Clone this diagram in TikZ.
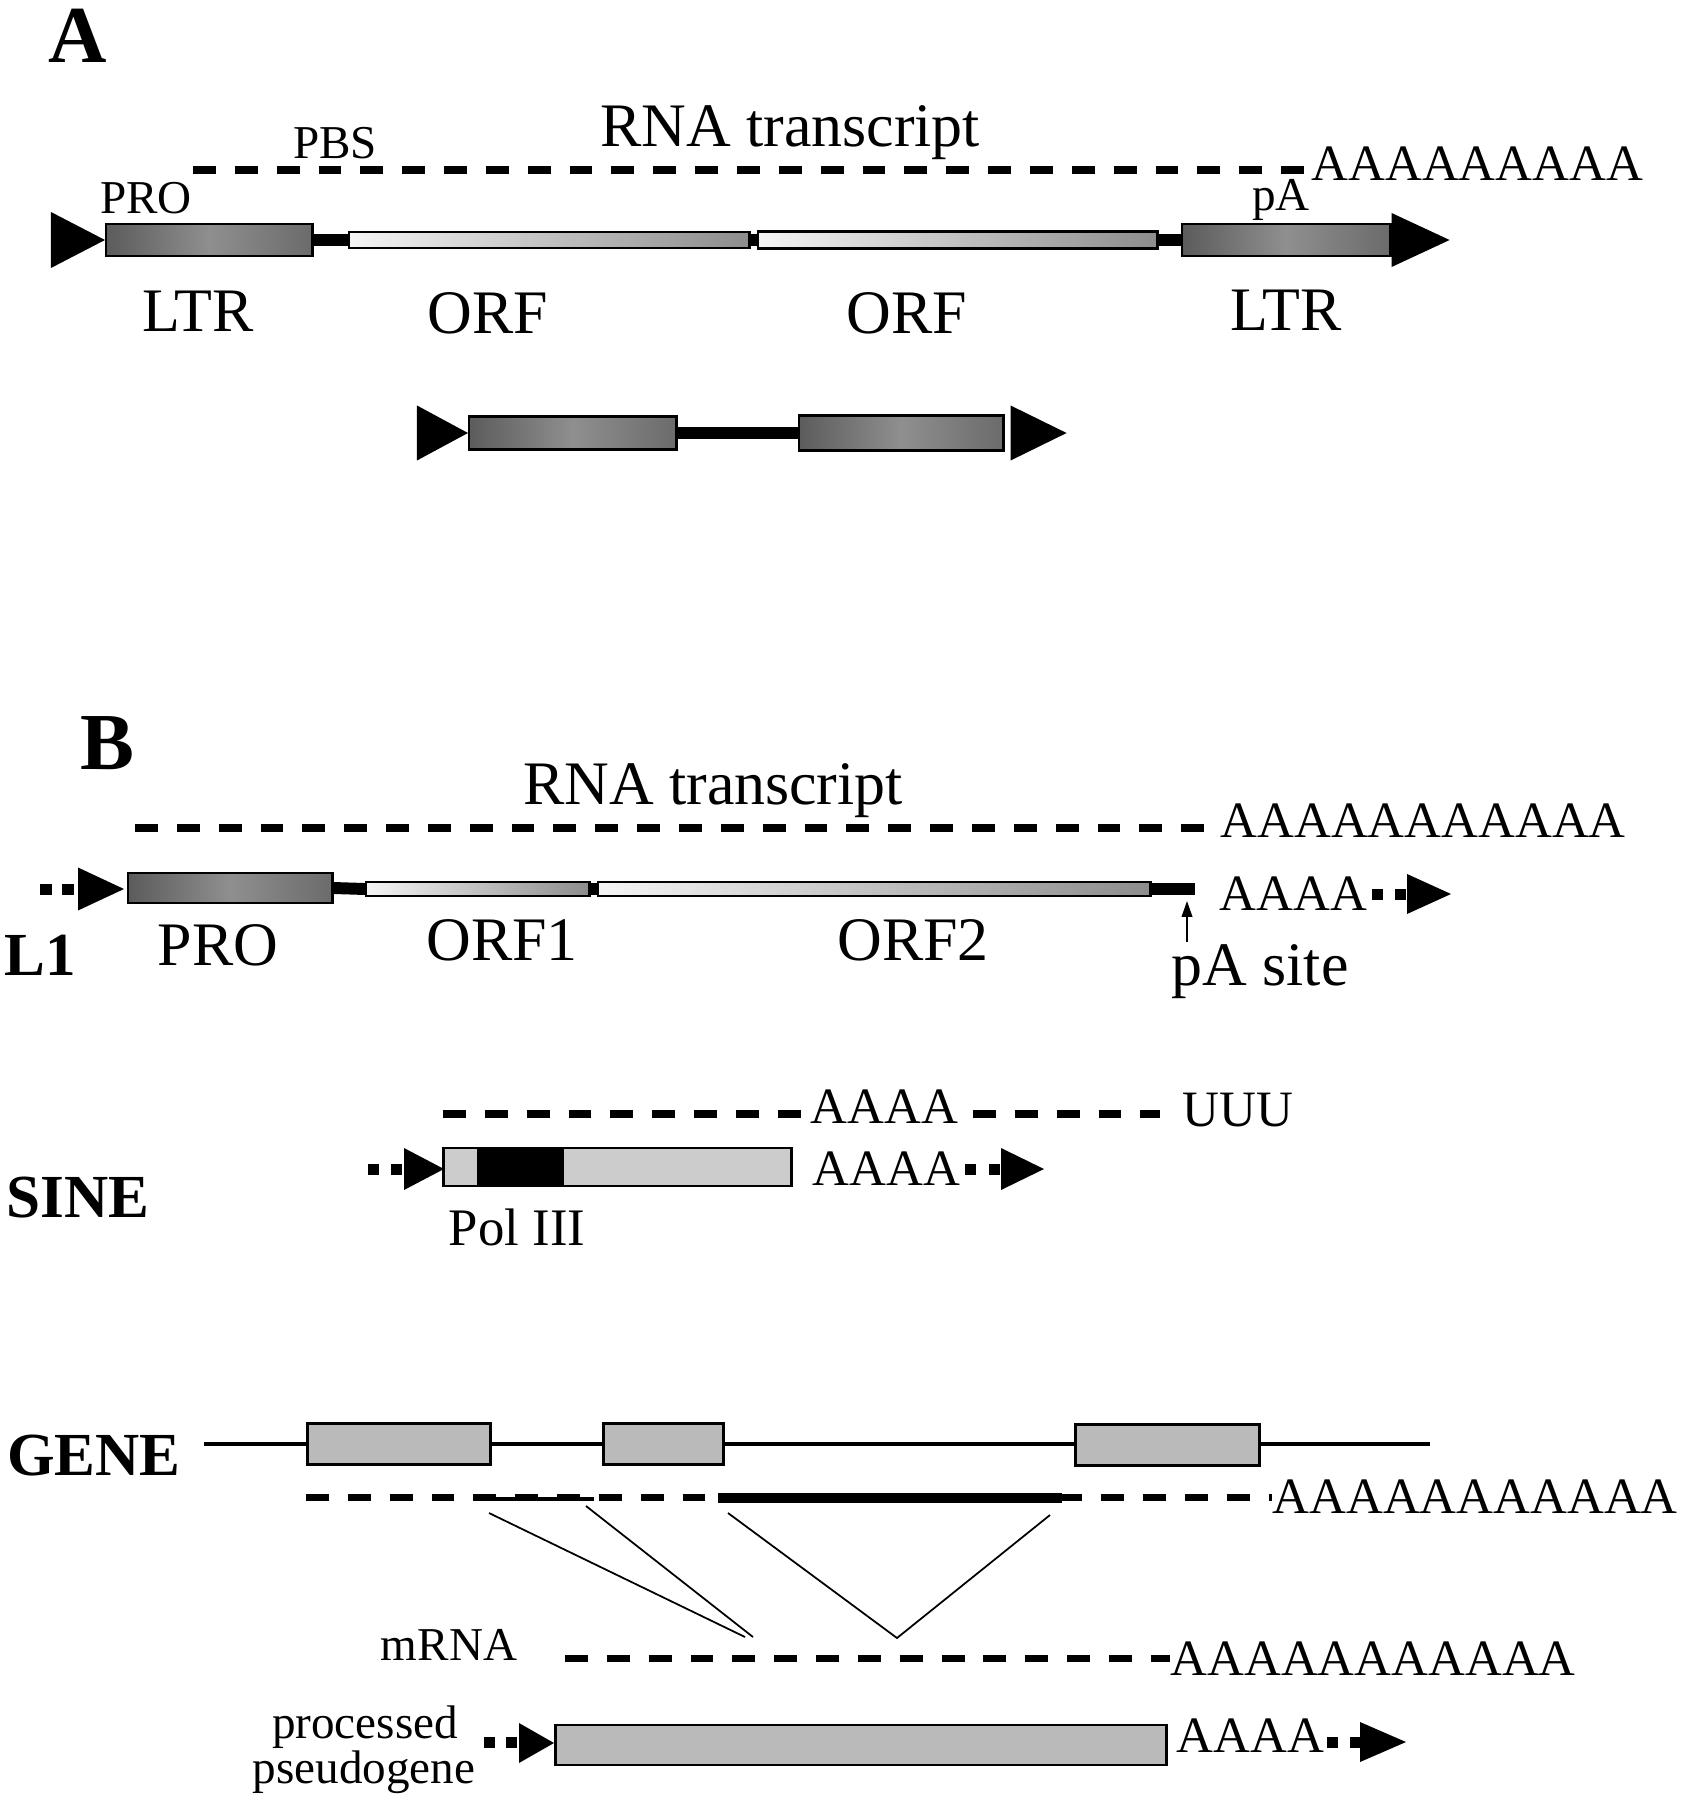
\documentclass[tikz,border=0pt]{standalone}
\usepackage{fontspec}
\setmainfont{Liberation Serif}
\usetikzlibrary{arrows.meta}
% filled target-site arrowhead: base centre, width, height
\newcommand{\rtri}[3]{\fill #1 ++(0,{#3/2}) -- ++(0,{-#3}) -- ++({#2},{#3/2}) -- cycle;}

\begin{document}
\begin{tikzpicture}[x=0.01cm, y=-0.01cm,
    lbl/.style={anchor=base, inner sep=0, font=\fontsize{17.6}{20}\selectfont},
    sml/.style={anchor=base, inner sep=0, font=\fontsize{13.4}{15}\selectfont},
    tag/.style={anchor=base, inner sep=0, font=\fontsize{17.4}{20}\selectfont\bfseries},
    panel/.style={anchor=base, inner sep=0, font=\fontsize{23}{26}\selectfont\bfseries},
    polyA/.style={anchor=base west, inner sep=0, font=\fontsize{14.5}{17}\selectfont},
    ltrbox/.style={draw, line width=0.7pt, inner sep=0, anchor=west, left color=black!64, right color=black!58, middle color=black!44},
    orfbox/.style={draw, line width=0.7pt, inner sep=0, anchor=west, left color=black!4, right color=black!45},
    exon/.style={draw, line width=0.8pt, inner sep=0, anchor=west, fill=black!27},
    tsd/.style={fill, inner sep=0, minimum size=0.11cm},
    link/.style={line width=3.4pt},
    rna/.style={line width=2pt, dash pattern=on 6.5pt off 5.4pt},
    intron/.style={line width=1.2pt},
    splice/.style={line width=0.5pt}
]
    \useasboundingbox (0,0) rectangle (1686,1800);

    % === A: LTR RETROTRANSPOSON ===
    \node[panel] (panA) at (78,63) {A};
    \node[lbl] (rnaA) at (790,147) {RNA transcript};
    \node[sml] (pbs) at (335,159) {PBS};
    \node[sml] (proA) at (146,213) {PRO};
    \node[sml] (pA) at (1281,210) {pA};

    % transcript
    \node[polyA] (polyA1) at (1311,180) {AAAAAAAAA};
    \coordinate (txA) at (193,170);
    \draw[rna] (txA) -- (txA -| polyA1.west);

    % element
    \node[ltrbox, minimum width=2.06cm, minimum height=0.32cm] (ltrL) at (105,240) {};
    \node[orfbox, minimum width=4.00cm, minimum height=0.16cm] (orfA) at (348,240) {};
    \node[orfbox, minimum width=3.99cm, minimum height=0.17cm] (orfB) at (757,240) {};
    \node[ltrbox, minimum width=2.08cm, minimum height=0.32cm] (ltrR) at (1181,240) {};
    \draw[link] (ltrL.east) -- (orfA.west);
    \draw[link] (orfA.east) -- (orfB.west);
    \draw[link] (orfB.east) -- (ltrR.west);
    \rtri{([xshift=-0.54cm]ltrL.west)}{54}{56}
    \rtri{(ltrR.east)}{58}{54}

    \node[lbl] (ltrLlbl) at (198,331) {LTR};
    \node[lbl] (orfAlbl) at (488,333) {ORF};
    \node[lbl] (orfBlbl) at (907,333) {ORF};
    \node[lbl] (ltrRlbl) at (1286,330) {LTR};

    % solo element
    \node[ltrbox, minimum width=2.07cm, minimum height=0.33cm] (soloL) at (468,433) {};
    \node[ltrbox, minimum width=2.04cm, minimum height=0.35cm] (soloR) at (798,433) {};
    \draw[link] (soloL.east) -- (soloR.west);
    \rtri{([xshift=-0.51cm]soloL.west)}{51}{55}
    \rtri{([xshift=0.06cm]soloR.east)}{56}{55}

    % === B: L1 ===
    \node[panel] (panB) at (107,769) {B};
    \node[lbl] (rnaB) at (713,804) {RNA transcript};
    \node[polyA] (polyA2) at (1220,837) {AAAAAAAAAAA};
    \coordinate (txB) at (135,828);
    \draw[rna] (txB) -- (txB -| polyA2.west);

    \node[tsd] (l1d1) at (46,889) {};
    \node[tsd] (l1d2) at (68,889) {};
    \node[ltrbox, minimum width=2.04cm, minimum height=0.30cm] (pro) at (127,888) {};
    \node[orfbox, minimum width=2.23cm, minimum height=0.14cm] (orf1) at (365,889) {};
    \node[orfbox, minimum width=5.52cm, minimum height=0.14cm] (orf2) at (597,889) {};
    \coordinate (l1end) at (1195,889);
    \draw[link] (pro.east) -- (orf1.west);
    \draw[link] (orf1.east) -- (orf2.west);
    \draw[link] (orf2.east) -- (l1end);
    \rtri{(78,889)}{46}{43}

    \node[polyA] (polyA3) at (1219,910) {AAAA};
    \node[tsd] (l1d3) at (1377,894) {};
    \node[tsd] (l1d4) at (1400,894) {};
    \rtri{(1407,894)}{44}{40}

    \coordinate (pAtail) at (1187,942);
    \coordinate (pAtip) at (1187,901);
    \draw[splice, -{Triangle[length=4.5pt, width=3pt]}] (pAtail) -- (pAtip);
    \node[lbl] (pAsite) at (1260,985) {pA site};

    \node[tag] (l1) at (40,975) {L1};
    \node[lbl] (prolbl) at (218,965) {PRO};
    \node[lbl] (orf1lbl) at (502,960) {ORF1};
    \node[lbl] (orf2lbl) at (913,960) {ORF2};

    % === SINE ===
    \node[polyA] (polyA4) at (810,1123) {AAAA};
    \node[polyA] (uuu) at (1182,1126) {UUU};
    \coordinate (txS) at (443,1114);
    \coordinate (txS2) at (973,1114);
    \coordinate (txS3) at (1160,1114);
    \draw[rna] (txS) -- (txS -| polyA4.west);
    \draw[rna] (txS2) -- (txS3);

    \node[tsd] (sd1) at (373,1169) {};
    \node[tsd] (sd2) at (396,1169) {};
    \rtri{(404,1169)}{40}{42}
    \node[exon, fill=black!20, minimum width=3.48cm, minimum height=0.38cm] (sine) at (442,1167) {};
    \node[fill=black, inner sep=0, anchor=west, minimum width=0.87cm, minimum height=0.38cm] (polbox) at (476,1167) {};
    \node[polyA] (polyA5) at (812,1185) {AAAA};
    \node[tsd] (sd3) at (970,1169) {};
    \node[tsd] (sd4) at (994,1169) {};
    \rtri{(1001,1169)}{43}{42}

    \node[anchor=base, inner sep=0, font=\fontsize{15}{17}\selectfont] (pol3) at (517,1245) {Pol III};
    \node[tag] (sinetag) at (78,1217) {SINE};

    % === GENE ===
    \node[tag] (genetag) at (94,1475) {GENE};
    \coordinate (g0) at (204,1444);
    \coordinate (g1) at (1430,1444);
    \draw[intron] (g0) -- (g1);
    \node[exon, minimum width=1.83cm, minimum height=0.41cm] (ex1) at (306,1444) {};
    \node[exon, minimum width=1.20cm, minimum height=0.41cm] (ex2) at (602,1444) {};
    \node[exon, minimum width=1.84cm, minimum height=0.41cm] (ex3) at (1074,1445) {};

    % pre-mRNA
    \node[polyA] (polyA6) at (1272,1513) {AAAAAAAAAAA};
    \coordinate (txG) at (306,1497);
    \draw[rna] (txG) -- (txG -| polyA6.west);
    \coordinate (e1a) at (487,1499);
    \coordinate (e1b) at (594,1499);
    \coordinate (e2a) at (718,1498);
    \coordinate (e2b) at (1062,1498);
    \draw[line width=1.3pt] (e1a) -- (e1b);
    \draw[line width=2.8pt] (e2a) -- (e2b);

    % splicing
    \coordinate (s1) at (489,1513);
    \coordinate (s2) at (586,1506);
    \coordinate (s3) at (728,1513);
    \coordinate (s4) at (1050,1515);
    \coordinate (j1a) at (745,1637);
    \coordinate (j1b) at (753,1637);
    \coordinate (j2) at (897,1638);
    \draw[splice] (s1) -- (j1a);
    \draw[splice] (s2) -- (j1b);
    \draw[splice] (s3) -- (j2) -- (s4);

    % mRNA
    \node[sml] (mrna) at (449,1660) {mRNA};
    \node[polyA] (polyA7) at (1170,1675) {AAAAAAAAAAA};
    \coordinate (txM) at (565,1658);
    \draw[rna] (txM) -- (txM -| polyA7.west);

    % processed pseudogene
    \node[sml] (proc) at (365,1738) {processed};
    \node[sml] (pseudo) at (364,1783) {pseudogene};
    \node[tsd] (pd1) at (489,1742) {};
    \node[tsd] (pd2) at (511,1742) {};
    \rtri{(519,1743)}{35}{40}
    \node[exon, minimum width=6.11cm, minimum height=0.40cm] (pseudobox) at (554,1745) {};
    \node[polyA] (polyA8) at (1176,1752) {AAAA};
    \node[tsd] (pd3) at (1332,1742) {};
    \node[tsd] (pd4) at (1355,1742) {};
    \rtri{(1360,1742)}{46}{40}

\end{tikzpicture}
\end{document}
